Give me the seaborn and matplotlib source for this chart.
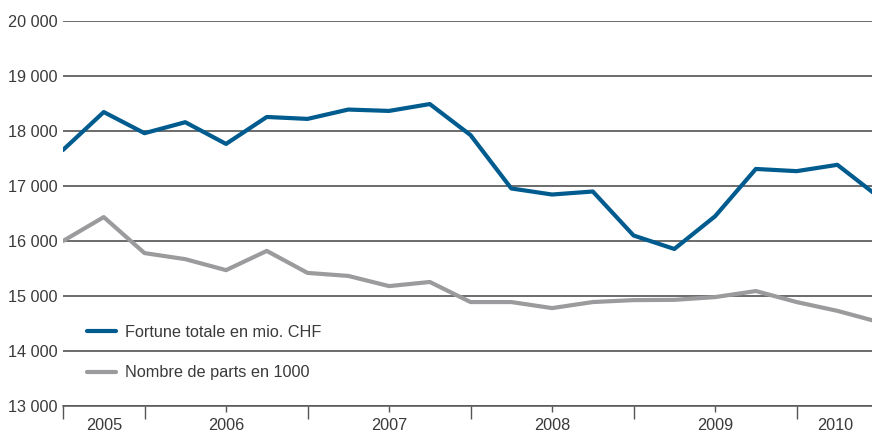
import pandas as pd
import seaborn as sns

import matplotlib
matplotlib.use('Agg')
from matplotlib import pyplot as plt
from matplotlib.ticker import FuncFormatter

# quarterly observations, index 0 = mid 2005
quarter = list(range(21))
fortune = [17655, 18345, 17960, 18160, 17765, 18255, 18220, 18390, 18365, 18490,
           17925, 16955, 16845, 16900, 16100, 15855, 16450, 17310, 17270, 17385, 16810]
parts = [16000, 16435, 15780, 15670, 15470, 15820, 15420, 15365, 15180, 15255,
         14890, 14890, 14780, 14890, 14925, 14930, 14980, 15090, 14890, 14730, 14530]
years = ['2005', '2006', '2007', '2008', '2009', '2010']
year_pos = [1, 4, 8, 12, 16, 18.95]
year_bounds = [0, 2, 6, 10, 14, 18]

label_fortune = 'Fortune totale en mio. CHF'
label_parts = 'Nombre de parts en 1000'

df = pd.DataFrame({
    'quarter': quarter * 2,
    'value': fortune + parts,
    'serie': [label_fortune] * len(fortune) + [label_parts] * len(parts),
})

sns.set_style('white')
plt.rcParams['font.family'] = ['Liberation Sans', 'DejaVu Sans']
text_col = '#3a3a3a'
grid_col = '#444444'

fig = plt.figure(figsize=(8.72, 4.32), dpi=100)
ax = fig.add_axes([63 / 872, 26 / 432, 1 - 63 / 872, 385 / 432])

sns.lineplot(data=df, x='quarter', y='value', hue='serie', ax=ax,
             palette={label_fortune: '#005b8e', label_parts: '#9b9b9d'},
             linewidth=3.0, legend=True)

ax.set_xlim(0, 19.85)
ax.set_ylim(13000, 20000)
ax.set_yticks(range(13000, 20001, 1000))
ax.yaxis.set_major_formatter(FuncFormatter(lambda v, p: '{:,.0f}'.format(v).replace(',', ' ')))
ax.yaxis.grid(True, color=grid_col, linewidth=1.1)
ax.set_axisbelow(True)
ax.tick_params(axis='y', length=0, pad=4, labelsize=11.7, labelcolor=text_col)

# year labels with short ticks, year boundaries as longer ticks
ax.set_xticks(year_pos)
ax.set_xticklabels(years)
ax.set_xticks(year_bounds, minor=True)
ax.tick_params(axis='x', which='both', bottom=True)
ax.tick_params(axis='x', which='major', length=4, width=1, color='#555555',
               pad=4.5, labelsize=11.7, labelcolor=text_col)
ax.tick_params(axis='x', which='minor', length=9, width=1, color='#555555')
for t in ax.xaxis.get_major_ticks():
    if t.get_loc() in (year_pos[0], year_pos[-1]):
        t.tick1line.set_visible(False)

for s in ['top', 'right', 'left']:
    ax.spines[s].set_visible(False)
ax.spines['bottom'].set_color('#555555')
ax.spines['bottom'].set_linewidth(1.1)

ax.set_xlabel('')
ax.set_ylabel('')

leg = ax.legend(loc='upper left', bbox_to_anchor=(0.03, 0.21), frameon=False,
                fontsize=11.7, handlelength=1.75, handletextpad=0.6,
                labelspacing=1.55, borderpad=0, borderaxespad=0)
for txt in leg.get_texts():
    txt.set_color(text_col)
for line in leg.get_lines():
    line.set_linewidth(3.0)

plt.savefig('out.png', dpi=100)
